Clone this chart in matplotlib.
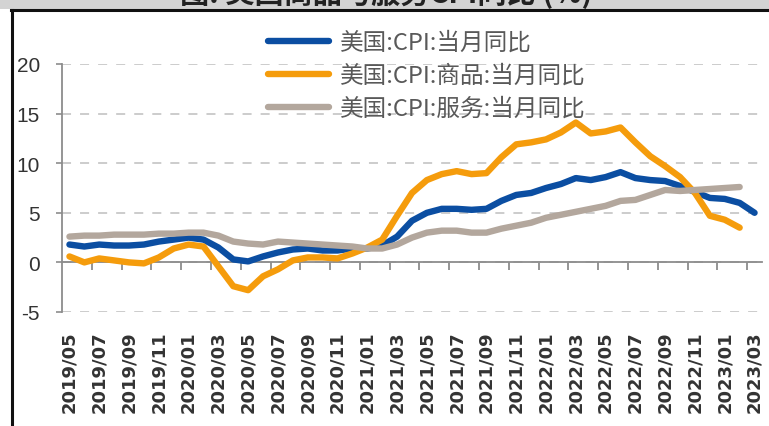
import matplotlib
matplotlib.use("Agg")
import matplotlib.pyplot as plt
import numpy as np
from matplotlib.lines import Line2D
from matplotlib.patches import Rectangle

# ---------------- data ----------------
months = ["2019/05", "2019/06", "2019/07", "2019/08", "2019/09", "2019/10", "2019/11", "2019/12",
          "2020/01", "2020/02", "2020/03", "2020/04", "2020/05", "2020/06", "2020/07", "2020/08",
          "2020/09", "2020/10", "2020/11", "2020/12", "2021/01", "2021/02", "2021/03", "2021/04",
          "2021/05", "2021/06", "2021/07", "2021/08", "2021/09", "2021/10", "2021/11", "2021/12",
          "2022/01", "2022/02", "2022/03", "2022/04", "2022/05", "2022/06", "2022/07", "2022/08",
          "2022/09", "2022/10", "2022/11", "2022/12", "2023/01", "2023/02", "2023/03"]

cpi_all = [1.8, 1.6, 1.8, 1.7, 1.7, 1.8, 2.1, 2.3, 2.5, 2.3, 1.5, 0.3, 0.1, 0.6, 1.0, 1.3,
           1.4, 1.2, 1.2, 1.4, 1.4, 1.7, 2.6, 4.2, 5.0, 5.4, 5.4, 5.3, 5.4, 6.2, 6.8, 7.0,
           7.5, 7.9, 8.5, 8.3, 8.6, 9.1, 8.5, 8.3, 8.2, 7.7, 7.1, 6.5, 6.4, 6.0, 5.0]

cpi_goods = [0.6, 0.0, 0.4, 0.2, 0.0, -0.1, 0.5, 1.4, 1.8, 1.6, -0.4, -2.4, -2.8, -1.4, -0.7, 0.2,
             0.5, 0.5, 0.4, 0.9, 1.5, 2.3, 4.7, 7.0, 8.3, 8.9, 9.2, 8.9, 9.0, 10.6, 11.9, 12.1,
             12.4, 13.1, 14.1, 13.0, 13.2, 13.6, 12.1, 10.7, 9.7, 8.6, 7.0, 4.7, 4.3, 3.5, None]

cpi_services = [2.6, 2.7, 2.7, 2.8, 2.8, 2.8, 2.9, 2.9, 3.0, 3.0, 2.7, 2.1, 1.9, 1.8, 2.1, 2.0,
                1.9, 1.8, 1.7, 1.6, 1.4, 1.4, 1.8, 2.5, 3.0, 3.2, 3.2, 3.0, 3.0, 3.4, 3.7, 4.0,
                4.5, 4.8, 5.1, 5.4, 5.7, 6.2, 6.3, 6.8, 7.3, 7.2, 7.3, 7.4, 7.5, 7.6, None]

labels = ["美国:CPI:当月同比", "美国:CPI:商品:当月同比", "美国:CPI:服务:当月同比"]
title = "图: 美国商品与服务CPI同比 (%)"
yticks = [-5, 0, 5, 10, 15, 20]

# ---------------- figure ----------------
cjk = ["Noto Sans CJK SC", "DejaVu Sans"]
W, H = 769, 427
fig = plt.figure(figsize=(W / 100, H / 100), dpi=100)
ax = fig.add_axes([62 / W, 1 - 313 / H, (762 - 62) / W, (313 - 65) / H])

x = np.arange(len(months))
def arr(v):
    return np.array([np.nan if a is None else a for a in v], dtype=float)

colors = ["#0b4ea2", "#f59c0c", "#b3a79d"]
for vals, c, lab in zip([cpi_all, cpi_goods, cpi_services], colors, labels):
    ax.plot(x, arr(vals), color=c, lw=4.6, label=lab, solid_capstyle="round",
            solid_joinstyle="round", zorder=3)

ax.set_xlim(-0.5, len(months) - 0.5)
ax.set_ylim(-5, 20)
ax.set_yticks(yticks)
ax.set_yticklabels([str(v) for v in yticks], fontsize=15, family="Liberation Sans", color="#333333")
ax.tick_params(axis="y", direction="out", length=4, width=1.2, color="#8c8c8c", pad=12)

ax.yaxis.grid(True, linestyle=(0, (5, 5)), color="#c8c8c8", lw=1.3, zorder=0)
ax.set_axisbelow(True)

for s in ["top", "right"]:
    ax.spines[s].set_visible(False)
ax.spines["left"].set_color("#8c8c8c")
ax.spines["left"].set_linewidth(1.3)
ax.spines["bottom"].set_position(("data", 0))
ax.spines["bottom"].set_color("#8c8c8c")
ax.spines["bottom"].set_linewidth(1.3)

ax.set_xticks(x[::2])
ax.set_xticklabels(months[::2], rotation=90, fontsize=13, fontweight="bold",
                   family="DejaVu Sans", color="#333333")
ax.set_xticks(np.arange(1.5, len(months) - 0.5, 2), minor=True)
ax.tick_params(axis="x", which="major", length=0, pad=49)
ax.tick_params(axis="x", which="minor", direction="out", length=5.5, width=1.3, color="#8c8c8c")

leg = ax.legend(loc="upper left", bbox_to_anchor=(268 / W, 1 - 32 / H), bbox_transform=fig.transFigure,
                frameon=False, borderpad=0, borderaxespad=0, handlelength=2.6, handletextpad=0.45,
                labelspacing=0.42, prop={"family": cjk, "size": 17, "style": "italic"})
for t in leg.get_texts():
    t.set_color("#595959")
for h in leg.legend_handles:
    h.set_linewidth(4.6)

# frame decorations (title bar, borders)
fig.add_artist(Rectangle((0, 1 - 10 / H), 1, 10 / H, transform=fig.transFigure,
                         facecolor="#d3d3d3", edgecolor="none", zorder=0))
fig.text(386 / W, 1 - 9 / H, title, ha="center", va="bottom", fontsize=21, fontweight="bold",
         family=cjk, color="#222222", zorder=2)
fig.add_artist(Line2D([11 / W, 1], [1 - 11 / H, 1 - 11 / H], transform=fig.transFigure,
                      color="#111111", lw=2.2, zorder=3))
fig.add_artist(Line2D([12 / W, 12 / W], [0, 1 - 11 / H], transform=fig.transFigure,
                      color="#111111", lw=2.2, zorder=3))

fig.savefig("out.png", dpi=100)
